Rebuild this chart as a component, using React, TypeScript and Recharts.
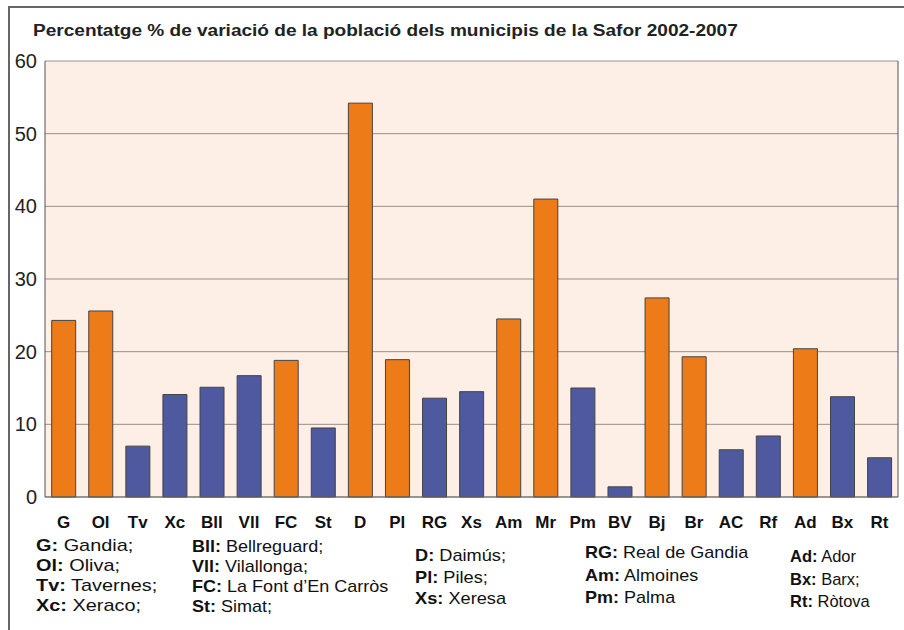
import React from 'react'
import { BarChart, Bar, XAxis, YAxis, CartesianGrid, Cell } from 'recharts'

// municipis (abreviatures) i % de variació 2002-2007
const codes = ['G', 'Ol', 'Tv', 'Xc', 'Bll', 'Vll', 'FC', 'St', 'D', 'Pl', 'RG', 'Xs', 'Am', 'Mr', 'Pm', 'BV', 'Bj', 'Br', 'AC', 'Rf', 'Ad', 'Bx', 'Rt']
const values = [24.3, 25.6, 7.0, 14.1, 15.1, 16.7, 18.8, 9.5, 54.2, 18.9, 13.6, 14.5, 24.5, 41.0, 15.0, 1.4, 27.4, 19.3, 6.5, 8.4, 20.4, 13.8, 5.4]
// 'hi' = taronja, 'lo' = blau
const groups = ['hi', 'hi', 'lo', 'lo', 'lo', 'lo', 'hi', 'lo', 'hi', 'hi', 'lo', 'lo', 'hi', 'hi', 'lo', 'lo', 'hi', 'hi', 'lo', 'lo', 'hi', 'lo', 'lo']
const yTicks = [0, 10, 20, 30, 40, 50, 60]

const legendCols = [
  [['G:', 'Gandia;'], ['Ol:', 'Oliva;'], ['Tv:', 'Tavernes;'], ['Xc:', 'Xeraco;']],
  [['Bll:', 'Bellreguard;'], ['Vll:', 'Vilallonga;'], ['FC:', 'La Font d\u2019En Carròs'], ['St:', 'Simat;']],
  [['D:', 'Daimús;'], ['Pl:', 'Piles;'], ['Xs:', 'Xeresa']],
  [['RG:', 'Real de Gandia'], ['Am:', 'Almoines'], ['Pm:', 'Palma']],
  [['Ad:', 'Ador'], ['Bx:', 'Barx;'], ['Rt:', 'Ròtova']],
]
// layout of the legend text boxes
const legendBox = [
  { left: 36, top: 536, lh: 20, sx: 1.17 },
  { left: 192, top: 537, lh: 20, sx: 1.06 },
  { left: 415, top: 545, lh: 21.5, sx: 1.07 },
  { left: 585, top: 542, lh: 22.5, sx: 1.06 },
  { left: 790, top: 546, lh: 22.5, sx: 0.97 },
]

const COLORS: Record<string, string> = { hi: '#EC7B18', lo: '#4E59A0' }
const FONT = '"Liberation Sans", Arial, Helvetica, sans-serif'

const data = codes.map((c, i) => ({ code: c, value: values[i], group: groups[i] }))

export default function App() {
  return (
    <div style={{ position: 'fixed', left: 0, top: 0, width: 904, height: 630, background: '#fff', fontFamily: FONT, overflow: 'hidden' }}>
      {/* marc */}
      <div style={{ position: 'absolute', left: 8, top: 6, width: 910, height: 640, borderLeft: '2px solid #666', borderTop: '2px solid #666' }} />
      <div style={{ position: 'absolute', left: 33, top: 22, fontSize: 16, fontWeight: 'bold', color: '#222', whiteSpace: 'nowrap', transform: 'scaleX(1.19)', transformOrigin: 'left top' }}>
        Percentatge % de variació de la població dels municipis de la Safor 2002-2007
      </div>
      <div style={{ position: 'absolute', left: 0, top: 0 }}>
        <BarChart width={904} height={540} data={data} margin={{ top: 61, right: 5, left: 0, bottom: 0 }} barCategoryGap="18%">
          <CartesianGrid vertical={false} stroke="#9a8e88" fill="#FDEEE6" yAxisId="l" />
          <XAxis
            dataKey="code"
            height={43}
            tickLine={false}
            tickMargin={13}
            axisLine={{ stroke: '#666' }}
            interval={0}
            tick={{ fontSize: 17, fontWeight: 'bold', fill: '#111', fontFamily: FONT }}
          />
          <YAxis
            yAxisId="l"
            width={45}
            domain={[0, 60]}
            ticks={yTicks}
            tickLine={false}
            axisLine={{ stroke: '#555' }}
            tick={{ fontSize: 20, fill: '#222', fontFamily: FONT }}
          />
          <YAxis yAxisId="r" orientation="right" width={1} domain={[0, 60]} tick={false} tickLine={false} axisLine={{ stroke: '#555' }} />
          <Bar yAxisId="l" dataKey="value" stroke="#444" strokeWidth={1} isAnimationActive={false}>
            {data.map((d, i) => (
              <Cell key={i} fill={COLORS[d.group]} />
            ))}
          </Bar>
        </BarChart>
      </div>
      {legendCols.map((col, ci) => {
        const b = legendBox[ci]
        return (
          <div
            key={ci}
            style={{
              position: 'absolute',
              left: b.left,
              top: b.top,
              fontSize: 17,
              lineHeight: b.lh + 'px',
              color: '#111',
              whiteSpace: 'nowrap',
              transform: `scaleX(${b.sx})`,
              transformOrigin: 'left top',
            }}
          >
            {col.map(([a, n], ri) => (
              <div key={ri}>
                <b>{a}</b> {n}
              </div>
            ))}
          </div>
        )
      })}
    </div>
  )
}
